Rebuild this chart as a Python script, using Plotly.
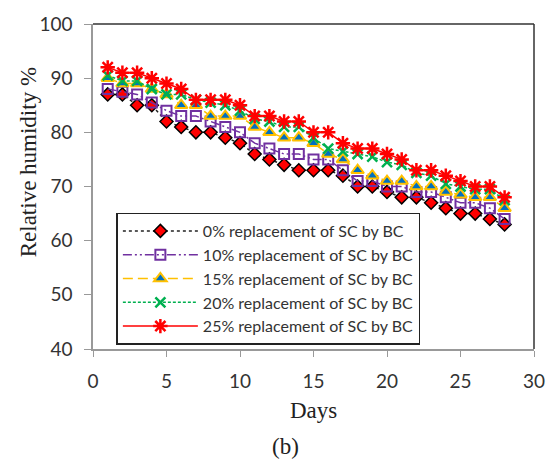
import plotly.graph_objects as go

# Relative humidity (%) over 28 days for each SC->BC replacement level
days = list(range(1, 29))
rh_0 = [87, 87, 85, 85, 82, 81, 80, 80, 79, 78, 76, 75, 74, 73, 73, 73, 72, 70, 70, 69, 68, 68, 67, 66, 65, 65, 64, 63]
rh_10 = [88, 87.5, 87, 85.5, 84, 83, 83, 82, 81, 80, 78, 77, 76, 76, 75, 75, 73, 71, 71, 70, 70, 69, 69, 68, 67, 67, 66, 64]
rh_15 = [90, 89, 89, 88, 87, 85, 85, 83, 83, 83, 81, 80, 79, 79, 78, 76, 75, 73, 72, 71, 71, 70, 70, 69, 68.5, 68, 68, 66]
rh_20 = [90.5, 89.5, 89.5, 88, 87, 87, 86, 85.5, 85, 84, 82.5, 82, 81, 81, 79, 77, 76.5, 76, 75.5, 74.5, 74, 72.5, 72, 70.5, 70, 69.5, 69.5, 67.5]
rh_25 = [92, 91, 91, 90, 89, 88, 86, 86, 86, 85, 83, 83, 82, 82, 80, 80, 78, 77, 77, 76, 75, 73, 73, 72, 71, 70, 70, 68]

names = [
    "0% replacement of SC by BC",
    "10% replacement of SC by BC",
    "15% replacement of SC by BC",
    "20% replacement of SC by BC",
    "25% replacement of SC by BC",
]

series = [
    dict(y=rh_0, line=dict(color="#222222", width=1.5, dash="dot"),
         marker=dict(symbol="diamond", size=10, color="#FF0000", line=dict(color="#000000", width=1.5))),
    dict(y=rh_10, line=dict(color="#7030A0", width=1.5, dash="9px,3px,2px,3px,2px,3px"),
         marker=dict(symbol="square-open", size=10, color="#7030A0", line=dict(width=2))),
    dict(y=rh_15, line=dict(color="#FFC000", width=1.5, dash="10px,5px"),
         marker=dict(symbol="triangle-up", size=11, color="#0070C0", line=dict(color="#FFC000", width=2))),
    dict(y=rh_20, line=dict(color="#00B050", width=1.5, dash="3px,2px"),
         marker=dict(symbol="x-thin-open", size=10, color="#00B050", line=dict(width=2.5))),
    dict(y=rh_25, line=dict(color="#FF0000", width=1.5),
         marker=dict(symbol="asterisk-open", size=12, color="#FF0000", line=dict(width=2.5))),
]

fig = go.Figure()
for name, s in zip(names, series):
    fig.add_trace(go.Scatter(x=days, y=s["y"], mode="lines+markers", name=name,
                             line=s["line"], marker=s["marker"]))

tick_font = dict(family="Lato, Open Sans, sans-serif", size=19, color="#333333")
serif = dict(family="Liberation Serif, Times New Roman, serif", size=23, color="#222222")

fig.update_layout(
    width=557, height=460,
    margin=dict(l=93, r=14, t=21, b=111),
    paper_bgcolor="white", plot_bgcolor="white",
    showlegend=True,
    legend=dict(
        x=0.053, y=0.42, xanchor="left", yanchor="top",
        bgcolor="white", bordercolor="#222222", borderwidth=1.5,
        font=dict(family="Lato, Open Sans, sans-serif", size=16, color="#333333"),
        itemwidth=75, tracegroupgap=0,
    ),
    xaxis=dict(range=[0, 30], tickvals=[0, 5, 10, 15, 20, 25, 30], showgrid=False, zeroline=False,
               showline=True, linecolor="#999999", linewidth=1.5,
               ticks="outside", ticklen=6, tickcolor="#999999", tickfont=tick_font,
               ticklabelstandoff=8),
    yaxis=dict(range=[40, 100], tickvals=[40, 50, 60, 70, 80, 90, 100], showgrid=False, zeroline=False,
               showline=True, linecolor="#999999", linewidth=1.5,
               ticks="outside", ticklen=7, tickcolor="#999999", tickfont=tick_font,
               ticklabelstandoff=8),
    shapes=[
        dict(type="line", xref="paper", yref="paper", x0=0, x1=1, y0=1, y1=1,
             line=dict(color="#333333", width=1.5)),
        dict(type="line", xref="paper", yref="paper", x0=1, x1=1, y0=0, y1=1,
             line=dict(color="#333333", width=1.5)),
    ],
    annotations=[
        dict(text="Relative humidity %", xref="paper", yref="paper", x=-0.147, y=0.575,
             textangle=-90, showarrow=False, font=serif, xanchor="center", yanchor="middle"),
        dict(text="Days", xref="paper", yref="paper", x=0.5, y=-0.19,
             showarrow=False, font=serif, xanchor="center", yanchor="middle"),
        dict(text="(b)", xref="paper", yref="paper", x=0.436, y=-0.30,
             showarrow=False, font=serif, xanchor="center", yanchor="middle"),
    ],
)

fig.write_html("out.html")
